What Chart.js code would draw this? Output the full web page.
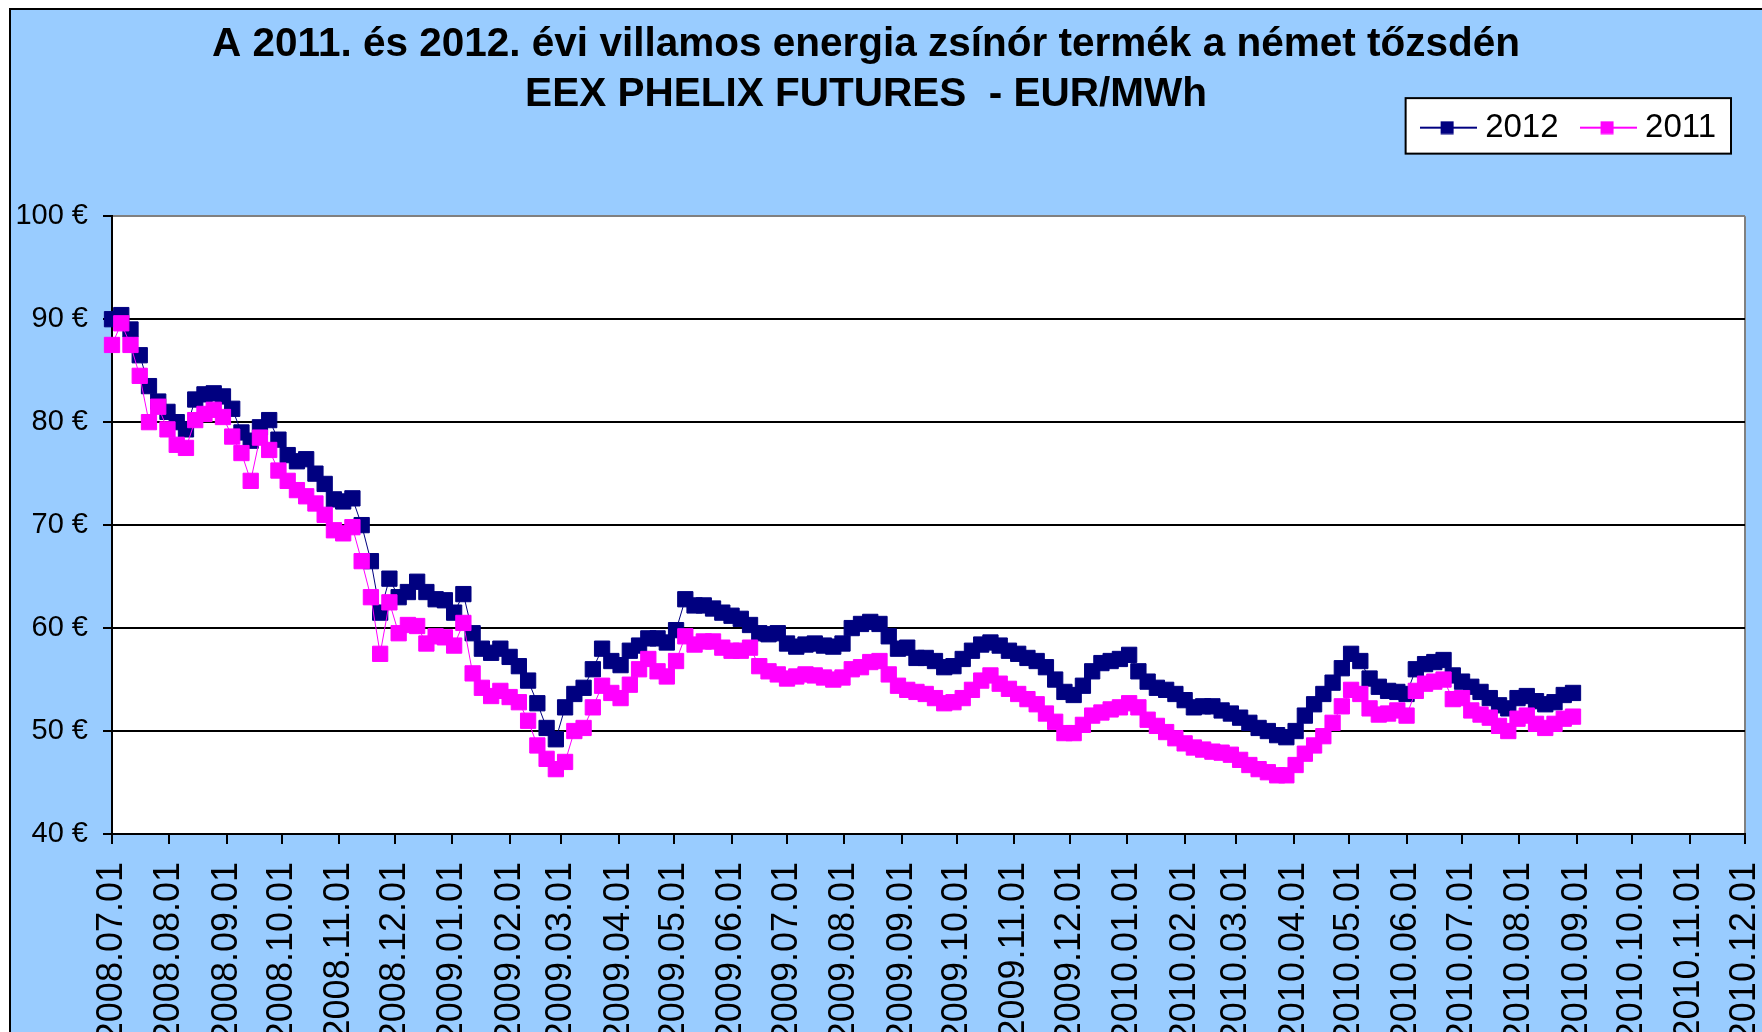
<!DOCTYPE html>
<html>
<head>
<meta charset="utf-8">
<script src="https://cdn.jsdelivr.net/npm/chart.js@4.4.1/dist/chart.umd.min.js"></script>
<style>
html,body{margin:0;padding:0;background:#fff;overflow:hidden;width:1762px;height:1032px;}
#frame{position:absolute;left:9px;top:8px;width:1800px;height:1100px;background:#99CCFF;border-left:2px solid #000;border-top:2px solid #000;}
#c{position:absolute;left:-13px;top:0;}
</style>
</head>
<body>
<div id="frame"></div>
<canvas id="c" width="1792" height="1100"></canvas>
<script>
// ---------------- data ----------------
const chartTitle = ['A 2011. és 2012. évi villamos energia zsínór termék a német tőzsdén', 'EEX PHELIX FUTURES  - EUR/MWh'];
const seriesNames = ['2012', '2011'];
const monthLabels = [
  '2008.07.01','2008.08.01','2008.09.01','2008.10.01','2008.11.01','2008.12.01',
  '2009.01.01','2009.02.01','2009.03.01','2009.04.01','2009.05.01','2009.06.01',
  '2009.07.01','2009.08.01','2009.09.01','2009.10.01','2009.11.01','2009.12.01',
  '2010.01.01','2010.02.01','2010.03.01','2010.04.01','2010.05.01','2010.06.01',
  '2010.07.01','2010.08.01','2010.09.01','2010.10.01','2010.11.01','2010.12.01'
];
const yMin = 40, yMax = 100, yStep = 10;
const sampleStart = '2008.07.01';
const sampleStepDays = 5;
const values2012 = [
  90.0, 90.4, 89.0, 86.5, 83.5, 82.0, 81.0, 80.0, 79.3, 82.2,
  82.7, 82.8, 82.5, 81.3, 79.0, 78.2, 79.5, 80.2, 78.3, 76.8,
  76.2, 76.4, 75.0, 74.0, 72.5, 72.3, 72.6, 70.0, 66.5, 61.5,
  64.8, 63.0, 63.5, 64.5, 63.5, 62.8, 62.7, 61.5, 63.3, 59.5,
  58.0, 57.6, 58.0, 57.2, 56.3, 54.9, 52.7, 50.3, 49.2, 52.3,
  53.6, 54.2, 56.0, 58.0, 56.8, 56.4, 57.8, 58.3, 59.0, 59.0,
  58.6, 59.8, 62.8, 62.2, 62.2, 61.9, 61.5, 61.2, 60.9, 60.3,
  59.5, 59.4, 59.5, 58.5, 58.2, 58.4, 58.5, 58.3, 58.2, 58.5,
  60.0, 60.4, 60.6, 60.4, 59.2, 58.0, 58.1, 57.1, 57.1, 56.8,
  56.2, 56.3, 57.0, 57.8, 58.4, 58.6, 58.3, 57.8, 57.5, 57.1,
  56.8, 56.2, 55.0, 53.8, 53.5, 54.4, 55.8, 56.6, 56.8, 57.0,
  57.4, 55.8, 54.8, 54.2, 54.0, 53.6, 53.0, 52.3, 52.4, 52.4,
  52.0, 51.7, 51.3, 50.8, 50.3, 50.0, 49.6, 49.4, 50.0, 51.5,
  52.6, 53.6, 54.7, 56.1, 57.5, 56.8, 55.1, 54.3, 53.9, 53.8,
  53.6, 56.0, 56.5, 56.7, 56.9, 55.4, 54.8, 54.3, 53.8, 53.2,
  52.5, 52.2, 53.2, 53.4, 52.9, 52.6, 52.8, 53.5, 53.7
];
const values2011 = [
  87.5, 89.6, 87.5, 84.5, 80.0, 81.5, 79.3, 77.8, 77.5, 80.2,
  80.8, 81.2, 80.5, 78.6, 77.0, 74.3, 78.5, 77.3, 75.3, 74.3,
  73.4, 72.8, 72.1, 71.0, 69.5, 69.2, 69.8, 66.5, 63.0, 57.5,
  62.5, 59.5, 60.3, 60.2, 58.5, 59.2, 59.1, 58.3, 60.5, 55.6,
  54.2, 53.4, 53.9, 53.3, 52.8, 51.0, 48.6, 47.3, 46.3, 47.0,
  50.0, 50.3, 52.3, 54.4, 53.7, 53.2, 54.5, 56.0, 57.0, 55.8,
  55.3, 56.8, 59.2, 58.4, 58.7, 58.7, 58.1, 57.8, 57.8, 58.1,
  56.3, 55.8, 55.5, 55.1, 55.3, 55.5, 55.4, 55.2, 55.0, 55.2,
  56.0, 56.2, 56.7, 56.8, 55.5, 54.4, 54.0, 53.8, 53.6, 53.2,
  52.7, 52.8, 53.2, 54.0, 54.9, 55.4, 54.6, 54.1, 53.6, 53.1,
  52.6, 51.7, 50.9, 49.8, 49.8, 50.6, 51.5, 51.8, 52.1, 52.3,
  52.7, 52.3, 51.1, 50.5, 49.9, 49.3, 48.8, 48.4, 48.2, 48.0,
  47.9, 47.7, 47.2, 46.7, 46.3, 46.0, 45.7, 45.7, 46.7, 47.8,
  48.6, 49.5, 50.8, 52.4, 54.0, 53.6, 52.2, 51.6, 51.7, 52.0,
  51.5, 53.9, 54.6, 54.8, 55.0, 53.1, 53.2, 52.0, 51.6, 51.3,
  50.5, 50.0, 51.2, 51.5, 50.7, 50.3, 50.7, 51.2, 51.4
];
const colors = { s2012: '#000080', s2011: '#FF00FF' };

// ---------------- helpers ----------------
const FONT = "'Liberation Sans', Arial, Helvetica, sans-serif";
const origin = monthLabels[0];
function dayOf(label) {
  const p = label.split('.').map(Number), o = origin.split('.').map(Number);
  return Math.round((Date.UTC(p[0], p[1] - 1, p[2]) - Date.UTC(o[0], o[1] - 1, o[2])) / 86400000);
}
const monthDays = monthLabels.map(dayOf);
const startDay = dayOf(sampleStart);
const toPoints = vals => vals.map((v, i) => ({ x: startDay + i * sampleStepDays, y: v }));

function legendMarker(color) {
  const c = document.createElement('canvas');
  c.width = 57; c.height = 14;
  const g = c.getContext('2d');
  g.strokeStyle = color; g.lineWidth = 2;
  g.beginPath(); g.moveTo(0, 7); g.lineTo(57, 7); g.stroke();
  g.fillStyle = color; g.fillRect(21, 0.5, 13, 13);
  return c;
}
const markers = [legendMarker(colors.s2012), legendMarker(colors.s2011)];

const decor = {
  id: 'decor',
  beforeDraw(chart) {
    const { ctx, chartArea: a } = chart;
    ctx.save();
    ctx.fillStyle = '#ffffff';
    ctx.fillRect(a.left, a.top, a.right - a.left, a.bottom - a.top);
    const lg = chart.legend, hb = lg && lg.legendHitBoxes;
    if (hb && hb.length) {
      const last = hb[hb.length - 1];
      const l = hb[0].left - 22, r = last.left + last.width + 15;
      const t = lg.top + 16, b = lg.bottom - 0.5;
      ctx.fillRect(l, t, r - l, b - t);
      ctx.strokeStyle = '#000'; ctx.lineWidth = 2;
      ctx.strokeRect(l, t, r - l, b - t);
    }
    ctx.restore();
  }
};

const lastTick = monthLabels.length - 1;
const noSidePad = s => { s.paddingLeft = 0; s.paddingRight = 0; };

new Chart(document.getElementById('c'), {
  type: 'line',
  data: {
    datasets: [
      { label: seriesNames[0], data: toPoints(values2012), xAxisID: 'x', yAxisID: 'y', order: 1,
        borderColor: colors.s2012, backgroundColor: colors.s2012, borderWidth: 1,
        pointStyle: 'rect', pointRadius: 10.8, pointBorderWidth: 1,
        pointBackgroundColor: colors.s2012, pointBorderColor: colors.s2012, clip: false, tension: 0 },
      { label: seriesNames[1], data: toPoints(values2011), xAxisID: 'x', yAxisID: 'y', order: 0,
        borderColor: colors.s2011, backgroundColor: colors.s2011, borderWidth: 1,
        pointStyle: 'rect', pointRadius: 10.8, pointBorderWidth: 1,
        pointBackgroundColor: colors.s2011, pointBorderColor: colors.s2011, clip: false, tension: 0 }
    ]
  },
  options: {
    responsive: false,
    animation: false,
    events: [],
    layout: { padding: { left: 0, right: 34, top: 0, bottom: 0 } },
    plugins: {
      tooltip: { enabled: false },
      title: {
        display: true, text: chartTitle, color: '#000',
        font: { family: FONT, size: 40.5, weight: 'bold', lineHeight: 1.235 },
        padding: { top: 20, bottom: -37.9 }
      },
      legend: {
        display: true, position: 'top', align: 'end',
        labels: {
          color: '#000', font: { family: FONT, size: 33 },
          usePointStyle: true, pointStyleWidth: 41, padding: 29,
          generateLabels: chart => seriesNames.map((n, i) => ({
            text: n, fillStyle: i ? colors.s2011 : colors.s2012, strokeStyle: i ? colors.s2011 : colors.s2012,
            lineWidth: 0, pointStyle: markers[i], hidden: false, datasetIndex: i, fontColor: '#000'
          }))
        }
      }
    },
    scales: {
      x: {
        type: 'linear', position: 'bottom', min: 0, max: monthDays[lastTick],
        afterBuildTicks: s => { s.ticks = monthDays.map(v => ({ value: v })); },
        afterFit: s => { s.height = 266; noSidePad(s); },
        ticks: {
          autoSkip: false, minRotation: 90, maxRotation: 90, padding: 18, color: '#000',
          font: { family: FONT, size: 36 },
          callback: (v, i) => monthLabels[i]
        },
        grid: {
          display: true, drawOnChartArea: true, drawTicks: true, tickLength: 10, lineWidth: 2,
          color: c => (c.index === lastTick ? '#808080' : 'rgba(0,0,0,0)'),
          tickColor: '#000'
        },
        border: { display: true, color: '#000', width: 2 }
      },
      x2: {
        type: 'linear', axis: 'x', position: 'top', display: true,
        afterFit: s => { s.height = 62.1; noSidePad(s); },
        ticks: { display: false }, grid: { display: false }, border: { display: false }
      },
      y: {
        type: 'linear', position: 'left', min: yMin, max: yMax,
        afterFit: s => { s.width = 125; },
        ticks: {
          stepSize: yStep, padding: 15, color: '#000',
          font: { family: FONT, size: 29 },
          callback: v => v + ' €'
        },
        grid: {
          display: true, drawTicks: true, tickLength: 9, lineWidth: 2,
          color: c => (c.tick && c.tick.value === yMax ? '#808080' : '#000'),
          tickColor: '#000'
        },
        border: { display: true, color: '#000', width: 2 }
      }
    }
  },
  plugins: [decor]
});
</script>
</body>
</html>
